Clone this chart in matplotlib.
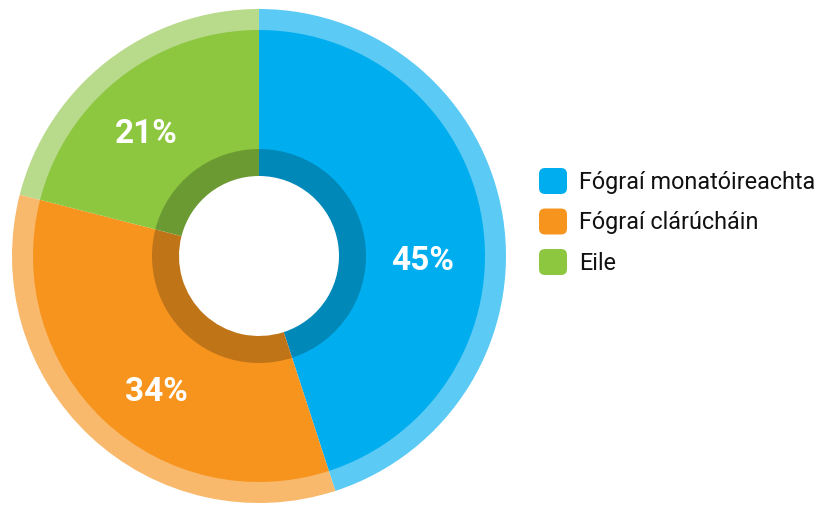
import matplotlib
matplotlib.use("Agg")
import matplotlib.pyplot as plt
from matplotlib.patches import FancyBboxPatch

# data
labels = ["Fógraí monatóireachta", "Fógraí clárúcháin", "Eile"]
shares = [45, 34, 21]
main_colors = ["#00AEEF", "#F7941E", "#8DC63F"]
light_colors = ["#5BCAF5", "#F9B96C", "#B8DA8B"]
dark_colors = ["#0088B8", "#C07418", "#6C9A32"]

W, H = 827, 506
fig = plt.figure(figsize=(W / 100, H / 100), dpi=100)
ax = fig.add_axes([0, 0, 1, 1])

cx, cy = 259, H - 257
r_out, r_main, r_dark, r_hole = 247, 226, 107, 80

common = dict(startangle=90, counterclock=False, center=(cx, cy))
ax.pie(shares, colors=light_colors, radius=r_out,
       wedgeprops=dict(width=r_out - r_main + 1, linewidth=0), **common)
ax.pie(shares, colors=main_colors, radius=r_main,
       wedgeprops=dict(width=r_main - r_dark + 1, linewidth=0), **common)
ax.pie(shares, colors=dark_colors, radius=r_dark,
       wedgeprops=dict(width=r_dark - r_hole, linewidth=0), **common)

# percent labels
label_pos = [(422, H - 261), (156, H - 392), (146, H - 134)]
for (x, y), s in zip(label_pos, shares):
    ax.text(x, y, f"{s}%", color="white", fontsize=24, fontweight="bold",
            family=["Roboto", "DejaVu Sans"], ha="center", va="center")

# legend
lx, ly, step = 539, H - 182, 40.5
for i, (lab, col) in enumerate(zip(labels, main_colors)):
    y = ly - i * step
    ax.add_patch(FancyBboxPatch((lx + 3, y - 10), 22, 20,
                                boxstyle="round,pad=3,rounding_size=6",
                                facecolor=col, edgecolor="none"))
    ax.text(lx + 40, y, lab, fontsize=16.8, color="#111111",
            family=["Roboto", "DejaVu Sans"],
            ha="left", va="center")

ax.set_xlim(0, W)
ax.set_ylim(0, H)
ax.set_aspect("equal")
ax.axis("off")
fig.savefig("out.png", dpi=100)
